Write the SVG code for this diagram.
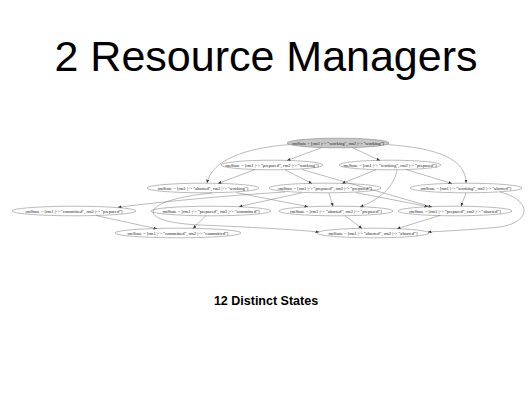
<svg xmlns="http://www.w3.org/2000/svg" width="532" height="400" viewBox="0 0 532 400">
<style>
.title{font-family:"Liberation Sans",Arial,sans-serif;font-size:43px;fill:#000}
.foot{font-family:"Liberation Sans",Arial,sans-serif;font-size:12.5px;font-weight:bold;fill:#000}
.node ellipse{fill:none;stroke:#777;stroke-width:0.5}
.node.start ellipse{fill:#c8c8c8}
.node text{font-family:"Liberation Serif","Times New Roman",serif;font-size:4.6px;fill:#222;text-anchor:middle;dominant-baseline:central}
.edges path{fill:none;stroke:#777;stroke-width:0.5;marker-end:url(#ah)}
</style>
<defs>
<marker id="ah" markerUnits="userSpaceOnUse" markerWidth="4" markerHeight="4" refX="3.5" refY="1.5" orient="auto">
<path d="M0,0 L3.5,1.5 L0,3 Z" fill="#333"/>
</marker>
</defs>
<rect width="532" height="400" fill="#fff"/>
<text class="title" x="266" y="71" text-anchor="middle">2 Resource Managers</text>

<g class="edges">
<path d="M322,147.5 L287,160.5"/>
<path d="M352,147.5 L380,160.5"/>
<path d="M290,144.5 C245,148 212,160 207,183"/>
<path d="M386,144.5 C440,148 466,160 466,183"/>
<path d="M255,169.5 L218,183.5"/>
<path d="M285,169.8 L312,183.5"/>
<path d="M302,169.5 L432,207"/>
<path d="M376,169.7 L342,183.5"/>
<path d="M406,169.5 L452,183.5"/>
<path d="M397,170 C394,188 378,200 360,207"/>
<path d="M236,192.6 L308,206.7"/>
<path d="M212,193 C140,200 132,222 200,225 C250,227 300,230 319,232"/>
<path d="M466,193 L461,206.3"/>
<path d="M500,192 C532,200 532,222 500,227 C470,230 445,231 428,232"/>
<path d="M285,192 C220,196 160,202 118,207.3"/>
<path d="M302,192.8 L239,206.6"/>
<path d="M329,193 L333,206.3"/>
<path d="M356,192.6 L428,206.6"/>
<path d="M96,215.5 L157,228.8"/>
<path d="M206,215.5 L193,228.6"/>
<path d="M345,215.6 L362,228.5"/>
<path d="M440,215.5 L397,228.7"/>
</g>

<g id="n_ww" class="node start"><ellipse cx="338" cy="143" rx="51" ry="4.8"/><text x="338" y="143">rmState = [rm1 |-&gt; "working", rm2 |-&gt; "working"]</text></g>
<g id="n_pw" class="node"><ellipse cx="272" cy="165" rx="51" ry="4.8"/><text x="272" y="165">rmState = [rm1 |-&gt; "prepared", rm2 |-&gt; "working"]</text></g>
<g id="n_wp" class="node"><ellipse cx="390" cy="165" rx="51" ry="4.8"/><text x="390" y="165">rmState = [rm1 |-&gt; "working", rm2 |-&gt; "prepared"]</text></g>
<g id="n_aw" class="node"><ellipse cx="203" cy="188" rx="56" ry="4.8"/><text x="203" y="188">rmState = [rm1 |-&gt; "aborted", rm2 |-&gt; "working"]</text></g>
<g id="n_pp" class="node"><ellipse cx="325" cy="188" rx="56" ry="4.8"/><text x="325" y="188">rmState = [rm1 |-&gt; "prepared", rm2 |-&gt; "prepared"]</text></g>
<g id="n_wa" class="node"><ellipse cx="466" cy="188" rx="56" ry="4.8"/><text x="466" y="188">rmState = [rm1 |-&gt; "working", rm2 |-&gt; "aborted"]</text></g>
<g id="n_cp" class="node"><ellipse cx="74" cy="211" rx="62" ry="4.8"/><text x="74" y="211">rmState = [rm1 |-&gt; "committed", rm2 |-&gt; "prepared"]</text></g>
<g id="n_pc" class="node"><ellipse cx="211" cy="211" rx="60" ry="4.8"/><text x="211" y="211">rmState = [rm1 |-&gt; "prepared", rm2 |-&gt; "committed"]</text></g>
<g id="n_ap" class="node"><ellipse cx="336" cy="211" rx="57" ry="4.8"/><text x="336" y="211">rmState = [rm1 |-&gt; "aborted", rm2 |-&gt; "prepared"]</text></g>
<g id="n_pa" class="node"><ellipse cx="455" cy="211" rx="57" ry="4.8"/><text x="455" y="211">rmState = [rm1 |-&gt; "prepared", rm2 |-&gt; "aborted"]</text></g>
<g id="n_cc" class="node"><ellipse cx="178" cy="233" rx="63" ry="4.8"/><text x="178" y="233">rmState = [rm1 |-&gt; "committed", rm2 |-&gt; "committed"]</text></g>
<g id="n_aa" class="node"><ellipse cx="373" cy="233" rx="56" ry="4.8"/><text x="373" y="233">rmState = [rm1 |-&gt; "aborted", rm2 |-&gt; "aborted"]</text></g>

<text class="foot" x="266" y="305" text-anchor="middle">12 Distinct States</text>
</svg>
